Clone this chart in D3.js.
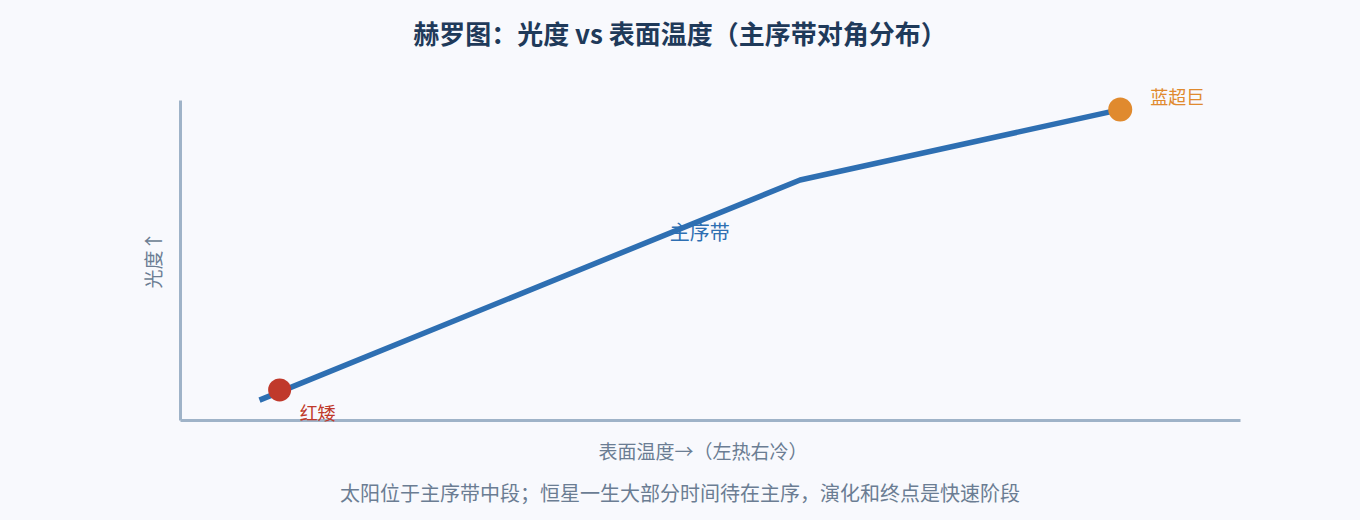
<!DOCTYPE html>
<html><head><meta charset="utf-8">
<script src="https://cdn.jsdelivr.net/npm/d3@7/dist/d3.min.js"></script>
<style>
html,body{margin:0;padding:0;background:#f8f9fd;}
svg{display:block;font-family:"Noto Sans CJK SC","Noto Sans",sans-serif;}
</style></head><body>
<svg id="chart" width="1360" height="520"></svg>
<script>
// Data (temperature axis: left = hot, right = cool as drawn; luminosity 0..100)
const seqTemp = [7.5, 58.5, 88.7];
const seqLum  = [6.2, 75, 97];
const starNames = ["红矮", "蓝超巨"];
const starTemp = [9.4, 88.7];
const starLum  = [9.4, 97];
const starColors = ["#c0392b", "#e08a2e"];
const titleText = "赫罗图：光度 vs 表面温度（主序带对角分布）";
const xLabel = "表面温度→（左热右冷）";
const yLabel = "光度↑";
const bandLabel = "主序带";
const noteText = "太阳位于主序带中段；恒星一生大部分时间待在主序，演化和终点是快速阶段";

const svg = d3.select("#chart");
const x = d3.scaleLinear().domain([0,100]).range([180,1240]);
const y = d3.scaleLinear().domain([0,100]).range([420,100]);

svg.append("rect").attr("width",1360).attr("height",520).attr("fill","#f8f9fd");

svg.append("text").attr("x",680).attr("y",44).attr("text-anchor","middle")
  .attr("font-size",26).attr("font-weight",700).attr("fill","#1f3a5a").text(titleText);

// axes (plain lines, no ticks)
const xAxis = d3.axisBottom(x).tickValues([]).tickSizeOuter(0);
const yAxis = d3.axisLeft(y).tickValues([]).tickSizeOuter(0);
svg.append("g").attr("transform","translate(0,420)").call(xAxis)
  .select(".domain").attr("stroke","#9fb3c8").attr("stroke-width",3);
svg.append("g").attr("transform","translate(180,0)").call(yAxis)
  .select(".domain").attr("stroke","#9fb3c8").attr("stroke-width",3);

const pts = seqTemp.map((t,i)=>[t,seqLum[i]]);
svg.append("path").datum(pts)
  .attr("d", d3.line().x(d=>x(d[0])).y(d=>y(d[1])))
  .attr("fill","none").attr("stroke","#2e6fb2").attr("stroke-width",5.5)
  .attr("stroke-linejoin","round");

svg.append("text").attr("x",x(46.2)).attr("y",y(56.3)).attr("font-size",20)
  .attr("fill","#2e6fb2").text(bandLabel);

starNames.forEach((n,i)=>{
  svg.append("circle").attr("cx",x(starTemp[i])).attr("cy",y(starLum[i]))
    .attr("r",i===0?11.5:12).attr("fill",starColors[i]);
});
svg.append("text").attr("x",x(starTemp[0])+20).attr("y",y(starLum[0])+30)
  .attr("font-size",18).attr("fill",starColors[0]).text(starNames[0]);
svg.append("text").attr("x",x(starTemp[1])+30).attr("y",y(starLum[1])-6)
  .attr("font-size",18).attr("fill",starColors[1]).text(starNames[1]);

svg.append("text").attr("x",703).attr("y",459).attr("text-anchor","middle")
  .attr("font-size",19).attr("fill","#6b7d93").text(xLabel);
svg.append("text").attr("transform","translate(161,260) rotate(-90)").attr("text-anchor","middle")
  .attr("font-size",19).attr("fill","#6b7d93").text(yLabel);
svg.append("text").attr("x",680).attr("y",501).attr("text-anchor","middle")
  .attr("font-size",20).attr("fill","#6b7d93").text(noteText);
</script></body></html>
